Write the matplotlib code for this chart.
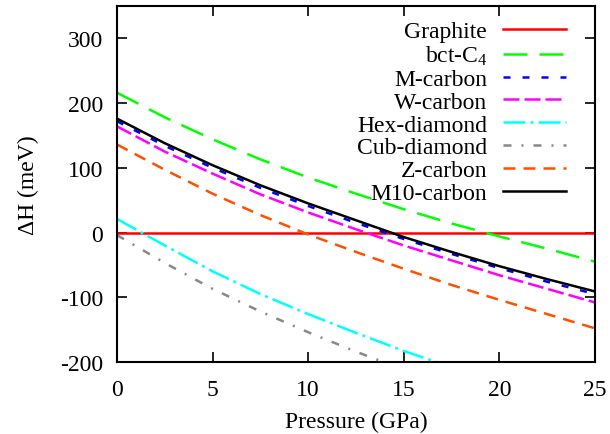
import matplotlib
matplotlib.use("Agg")
import matplotlib.pyplot as plt
import numpy as np

plt.rcParams['font.family'] = ['Liberation Serif', 'DejaVu Serif']
plt.rcParams['mathtext.fontset'] = 'custom'
plt.rcParams['mathtext.rm'] = 'Liberation Serif'
plt.rcParams['mathtext.it'] = 'Liberation Serif:italic'
plt.rcParams['lines.scale_dashes'] = False
plt.rcParams['axes.unicode_minus'] = False

pressure = [0, 2.5, 5, 7.5, 10, 12.5, 15, 17.5, 20, 22.5, 25]
graphite = [0, 0, 0, 0, 0, 0, 0, 0, 0, 0, 0]
bct_c4 = [216, 178, 144, 113, 85, 60, 36, 14, -6, -25, -45]
m_carbon = [172, 134, 100, 69, 41, 15, -10, -33, -55, -76, -95]
w_carbon = [164, 125, 91, 59, 31, 5, -20, -43, -66, -87, -108]
hex_pressure = [0, 2.5, 5, 7.5, 10, 12.5, 15, 17.5]
hex_diamond = [21, -20, -60, -95, -126, -155, -183, -208]
cub_pressure = [0, 2.5, 5, 7.5, 10, 12.5, 15]
cub_diamond = [-4, -47, -87, -122, -154, -184, -212]
z_carbon = [136, 97, 60, 27, -3, -30, -56, -81, -104, -126, -148]
m10_carbon = [176, 138, 104, 73, 45, 19, -7, -30, -52, -72, -91]

px = 0.72  # points per pixel at 100 dpi

fig = plt.figure(figsize=(6.1, 4.35), dpi=100)
ax = fig.add_axes([117/610, (435-363)/435, (595-117)/610, (363-7)/435])

lw = 1.8
ax.plot(pressure, graphite, color='#ff0000', lw=lw, label='Graphite')
ax.plot(pressure, bct_c4, color='#00ff00', lw=lw, dashes=(24*px, 12*px), label='bct-C$_4$')
ax.plot(pressure, m_carbon, color='#0000ff', lw=lw, dashes=(7*px, 12*px), label='M-carbon')
ax.plot(pressure, w_carbon, color='#ff00ff', lw=lw, dashes=(16*px, 5*px), label='W-carbon')
ax.plot(hex_pressure, hex_diamond, color='#00ffff', lw=lw, dashes=(22*px, 5*px, 3*px, 5*px), label='Hex-diamond')
ax.plot(cub_pressure, cub_diamond, color='#888888', lw=lw, dashes=(8*px, 10*px, 2*px, 10*px), label='Cub-diamond')
ax.plot(pressure, z_carbon, color='#ff5000', lw=lw, dashes=(12*px, 8*px), label='Z-carbon')
ax.plot(pressure, m10_carbon, color='#000000', lw=lw, label='M10-carbon')

ax.set_xlim(0, 25)
ax.set_ylim(-200, 350)
ax.set_xticks([0, 5, 10, 15, 20, 25])
ax.set_yticks([-200, -100, 0, 100, 200, 300])
ax.tick_params(direction='in', length=7, width=1.2, top=True, right=True,
               labelsize=17)
ax.tick_params(axis='y', pad=10)
ax.tick_params(axis='x', pad=12)
for s in ax.spines.values():
    s.set_linewidth(1.5)

ax.set_xlabel('Pressure (GPa)', fontsize=17, labelpad=8)
ax.set_ylabel('ΔH (meV)', fontsize=17, labelpad=15)

leg = ax.legend(loc='upper right', bbox_to_anchor=(0.940, 0.958), frameon=False,
                fontsize=17, markerfirst=False, handlelength=2.7,
                labelspacing=0.055, handletextpad=0.65, borderaxespad=0.0,
                borderpad=0.0)
for t in leg.get_texts():
    t.set_ha('right')
leg._legend_box.align = 'right'

fig.savefig('out.png', dpi=100)
